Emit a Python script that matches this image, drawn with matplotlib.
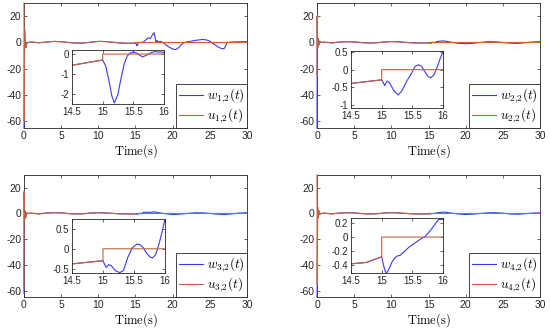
import numpy as np
import matplotlib
matplotlib.use("Agg")
import matplotlib.pyplot as plt
import matplotlib.ticker as mticker

plt.rcParams['font.family'] = ['Liberation Sans', 'DejaVu Sans']
plt.rcParams['mathtext.fontset'] = 'cm'
plt.rcParams['axes.unicode_minus'] = False

# common time grid before the switch at t = 15 s
t_pre = [0, 0.03, 0.08, 0.15, 0.25, 0.35, 0.5, 1, 2, 3, 4, 5, 6, 7, 8, 9,
         10, 11, 12, 13, 14, 14.5, 14.75, 15]

# u_{i,2}(t) before t = 15 (w_{i,2} follows it underneath)
u1_pre = [30, -60, 10, -3, -4, -1, 0, 0.3, -0.2, 0.3, 0.8, 0.6, 0.0, -0.5,
          -0.4, 0.2, 0.8, 0.7, 0.1, -0.4, -0.6, -0.56, -0.43, -0.3]
u2_pre = [-25, 20, -4, 3, -2, 1, 0, 0.2, -0.3, 0.3, 0.6, 0.4, -0.1, -0.4,
          -0.2, 0.3, 0.7, 0.5, 0.0, -0.3, -0.4, -0.39, -0.34, -0.29]
u3_pre = [-58, 17, -5, 2, -3, 0.5, 0, 0.2, -0.3, 0.3, 0.6, 0.4, -0.1, -0.4,
          -0.2, 0.3, 0.6, 0.4, 0.0, -0.3, -0.4, -0.38, -0.34, -0.3]
u4_pre = [30, -55, 5, -3, 2, -1, 0, 0.2, -0.3, 0.3, 0.6, 0.4, -0.1, -0.4,
          -0.2, 0.3, 0.6, 0.4, 0.0, -0.3, -0.4, -0.38, -0.36, -0.28]
w_start = [-65, -65, -62, -65]

# u_{i,2}(t) after the switch
t_u_post = [15.0, 30]
u_post = [0, 0]

# w_{i,2}(t) after the switch
t_w1_post = [15.05, 15.1, 15.15, 15.19, 15.25, 15.3, 15.35, 15.4, 15.45,
             15.5, 15.55, 15.6, 15.65, 15.7, 15.75, 15.8, 15.85, 15.9, 15.95,
             16.0, 16.3, 16.7, 17.0, 17.3, 17.5, 17.6, 17.75, 17.9, 18.1,
             18.4, 18.8, 19.5, 20.0, 20.4, 20.8, 21.2, 21.6, 22, 23, 24, 24.5,
             25, 25.5, 26, 26.5, 26.9, 27.1, 27.3, 28, 29, 30]
w1_post = [-0.6, -1.3, -2.1, -2.45, -2.0, -1.2, -0.5, -0.1, 0.05, 0.1,
           0.05, -0.05, -0.14, -0.08, 0.0, 0.08, 0.12, 0.1, 0.1, 0.08, 1.5,
           3.5, 3.0, 6.0, 7.5, 5.0, 0.0, 1.5, 0.5, 0.8, -0.5, -3.5, -5.0,
           -5.4, -4.0, -1.5, 0.0, 0.5, 1.5, 2.3, 2.0, 1.0, -1.0, -3.0, -4.5,
           -4.8, -3.0, 0.0, 0.3, 0.5, 0.6]

t_w_post = [15.05, 15.09, 15.13, 15.2, 15.27, 15.33, 15.4, 15.47, 15.55,
            15.6, 15.65, 15.7, 15.76, 15.8, 15.85, 15.9, 15.95, 16.0, 16.5,
            17, 17.5, 18, 19, 20, 21, 22, 23, 24, 25, 26, 27, 28, 29, 30]
w2_post = [-0.45, -0.32, -0.38, -0.6, -0.72, -0.6, -0.35, -0.15, 0.1, 0.14,
           0.1, -0.05, -0.2, -0.23, -0.15, 0.05, 0.3, 0.52, 1.0, 1.2, 0.8,
           0.2, -0.6, -1.0, -0.6, 0.0, 0.6, 0.5, 0.0, -0.5, -0.7, -0.2, 0.3,
           0.6]
w3_post = [-0.47, -0.4, -0.42, -0.55, -0.6, -0.55, -0.22, 0.02, 0.12, 0.1,
           0.03, -0.1, -0.21, -0.23, -0.15, 0.1, 0.4, 0.75, 1.0, 0.8, 1.2,
           0.7, -0.2, -0.8, -0.5, 0.0, 0.5, 0.5, 0.0, -0.5, -0.8, -0.3, 0.3,
           0.6]
t_w4_post = [15.03, 15.06, 15.08, 15.12, 15.17, 15.21, 15.25, 15.3, 15.35,
             15.45, 15.55, 15.65, 15.7, 15.75, 15.8, 15.85, 15.9, 15.93, 16.0,
             16.5, 17, 17.5, 18, 19, 20, 21, 22, 23, 24, 25, 26, 27, 28, 29, 30]
w4_post = [-0.4, -0.49, -0.51, -0.45, -0.35, -0.3, -0.27, -0.26, -0.22,
           -0.14, -0.08, -0.02, 0.0, 0.05, 0.1, 0.16, 0.22, 0.25, 0.25, 0.8,
           1.0, 0.8, 0.3, -0.4, -0.8, -0.5, 0.0, 0.5, 0.6, 0.2, -0.4, -0.6,
           -0.2, 0.3, 0.5]

panels = [
    (u1_pre, t_w1_post, w1_post, "1", (-2.5, 0.2), [-2, -1, 0]),
    (u2_pre, t_w_post, w2_post, "2", (-1.09, 0.53), [-1, -0.5, 0, 0.5]),
    (u3_pre, t_w_post, w3_post, "3", (-0.61, 0.75), [-0.5, 0, 0.5]),
    (u4_pre, t_w4_post, w4_post, "4", (-0.51, 0.27), [-0.4, -0.2, 0, 0.2]),
]

main_pos = [[0.0436, 0.612, 0.4055, 0.379], [0.5764, 0.612, 0.4055, 0.379],
            [0.0436, 0.100, 0.4055, 0.370], [0.5764, 0.100, 0.4055, 0.370]]
inset_pos = [[0.1309, 0.6848, 0.1673, 0.1636], [0.6382, 0.6727, 0.1673, 0.1727],
             [0.1309, 0.1727, 0.1690, 0.1636], [0.6382, 0.1727, 0.1673, 0.1667]]

c_w = '#3a3af0'
c_u = '#c2623a'
fmt = mticker.FuncFormatter(lambda v, p: '%g' % v)


def style(ax, size):
    for s in ax.spines.values():
        s.set_color('#262626')
        s.set_linewidth(0.6)
    ax.tick_params(direction='in', length=2, width=0.5, labelsize=size,
                   colors='#262626', top=True, right=True, pad=2)


fig = plt.figure(figsize=(5.5, 3.3), dpi=100)

for k, (u_pre, tw_post, w_post, idx, ylim_in, yt_in) in enumerate(panels):
    t_u = t_pre + t_u_post
    u = u_pre + u_post
    t_w = t_pre + tw_post
    w = [w_start[k]] + u_pre[1:] + w_post

    ax = fig.add_axes(main_pos[k])
    ax.plot(t_w, w, color=c_w, lw=0.8, zorder=3, clip_on=False,
            label=r'$w_{%s{,}2}(t)$' % idx)
    ax.plot(t_u, u, color=c_u, lw=0.8, zorder=3, clip_on=False,
            label=r'$u_{%s{,}2}(t)$' % idx)
    ax.set_xlim(0, 30)
    ax.set_ylim(-65, 30)
    ax.set_xticks([0, 5, 10, 15, 20, 25, 30])
    ax.set_yticks([-60, -40, -20, 0, 20])
    style(ax, 7.5)
    ax.set_xlabel(r'$\mathrm{Time(s)}$', fontsize=9, labelpad=1)
    leg = ax.legend(loc='lower right', fontsize=9.5, borderaxespad=0,
                    fancybox=False, framealpha=1, edgecolor='#262626',
                    handlelength=1.8, handletextpad=0.3, borderpad=0.2,
                    labelspacing=0.1)
    leg.get_frame().set_linewidth(0.6)
    leg.set_zorder(6)

    axi = fig.add_axes(inset_pos[k])
    axi.plot(t_w, w, color=c_w, lw=0.8)
    axi.plot(t_u, u, color=c_u, lw=0.8)
    axi.set_xlim(14.5, 16)
    axi.set_ylim(*ylim_in)
    axi.set_xticks([14.5, 15, 15.5, 16])
    axi.set_yticks(yt_in)
    axi.xaxis.set_major_formatter(fmt)
    axi.yaxis.set_major_formatter(fmt)
    style(axi, 7)

fig.savefig("out.png", dpi=100)
